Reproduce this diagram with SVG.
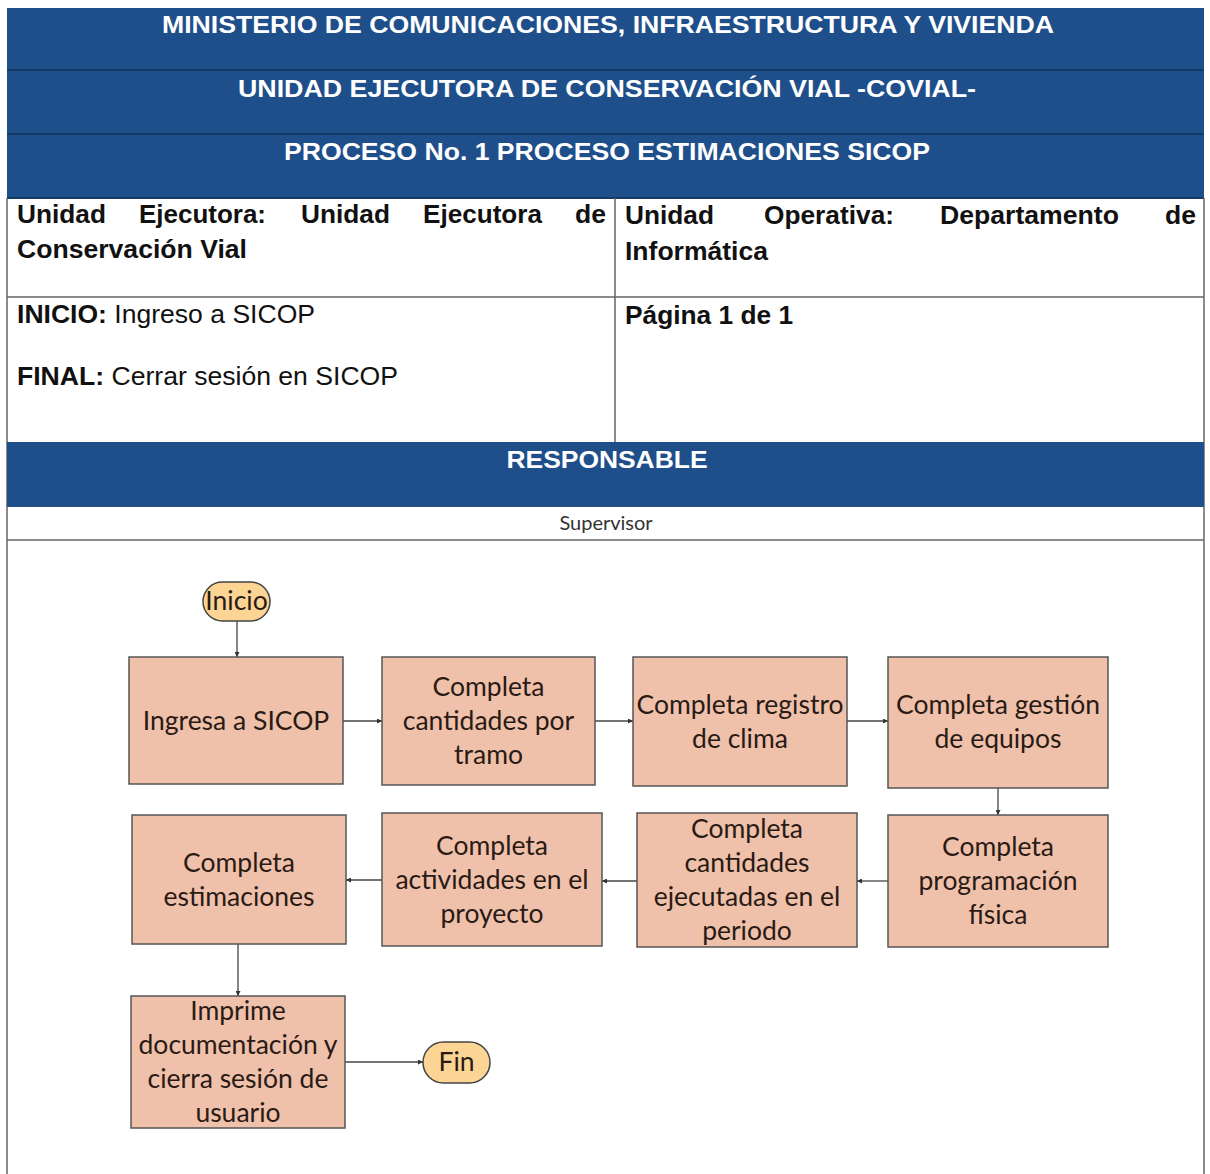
<svg xmlns="http://www.w3.org/2000/svg" width="1210" height="1174" viewBox="0 0 1210 1174">
<style>
.band{fill:#1f4f8b}
.sep{stroke:#163a66;stroke-width:2}
.grid{stroke:#666;stroke-width:1.5;fill:none}
.ht{font-family:"Liberation Sans",Arial,sans-serif;font-weight:bold;font-size:24px;fill:#fff;text-anchor:middle}
.ct{font-family:"Liberation Sans",Arial,sans-serif;font-size:26px;fill:#111}
.b{font-weight:bold}
.sup{font-family:Lato,"Open Sans",sans-serif;font-size:20px;fill:#333;text-anchor:middle}
.box{fill:#efc1ab;stroke:#555;stroke-width:1.5}
.term{fill:#fcd595;stroke:#444;stroke-width:1.5}
.nt{font-family:Lato,"Open Sans",sans-serif;font-size:26.5px;fill:#2a1a14;text-anchor:middle}
.con{stroke:#444;stroke-width:1.3;fill:none;marker-end:url(#ah)}
</style>
<defs>
<marker id="ah" viewBox="0 0 6 6" refX="6" refY="3" markerWidth="5" markerHeight="5" orient="auto" markerUnits="userSpaceOnUse">
<path d="M0,0 L6,3 L0,6 z" fill="#333"/>
</marker>
</defs>
<rect width="1210" height="1174" fill="#fff"/>
<g id="header">
<rect class="band" x="7" y="8" width="1197" height="190"/>
<line class="sep" x1="7" y1="70" x2="1204" y2="70"/>
<line class="sep" x1="7" y1="134" x2="1204" y2="134"/>
<line class="sep" x1="7" y1="198" x2="1204" y2="198"/>
<text class="ht" x="608" y="33" textLength="892" lengthAdjust="spacingAndGlyphs">MINISTERIO DE COMUNICACIONES, INFRAESTRUCTURA Y VIVIENDA</text>
<text class="ht" x="607" y="97" textLength="738" lengthAdjust="spacingAndGlyphs">UNIDAD EJECUTORA DE CONSERVACIÓN VIAL -COVIAL-</text>
<text class="ht" x="607" y="160" textLength="646" lengthAdjust="spacingAndGlyphs">PROCESO No. 1 PROCESO ESTIMACIONES SICOP</text>
</g>
<g id="info-table">
<line class="grid" x1="7" y1="198" x2="7" y2="1174"/>
<line class="grid" x1="1204" y1="198" x2="1204" y2="1174"/>
<line class="grid" x1="615" y1="198" x2="615" y2="442"/>
<line class="grid" x1="7" y1="297" x2="1204" y2="297"/>
<text class="ct b" x="17" y="223" textLength="89" lengthAdjust="spacingAndGlyphs">Unidad</text>
<text class="ct b" x="139" y="223" textLength="127" lengthAdjust="spacingAndGlyphs">Ejecutora:</text>
<text class="ct b" x="301" y="223" textLength="89" lengthAdjust="spacingAndGlyphs">Unidad</text>
<text class="ct b" x="423" y="223" textLength="119" lengthAdjust="spacingAndGlyphs">Ejecutora</text>
<text class="ct b" x="575" y="223" textLength="31" lengthAdjust="spacingAndGlyphs">de</text>
<text class="ct b" x="17" y="258" textLength="230" lengthAdjust="spacingAndGlyphs">Conservación Vial</text>
<text class="ct b" x="625" y="224" textLength="89" lengthAdjust="spacingAndGlyphs">Unidad</text>
<text class="ct b" x="764" y="224" textLength="130" lengthAdjust="spacingAndGlyphs">Operativa:</text>
<text class="ct b" x="940" y="224" textLength="179" lengthAdjust="spacingAndGlyphs">Departamento</text>
<text class="ct b" x="1165" y="224" textLength="31" lengthAdjust="spacingAndGlyphs">de</text>
<text class="ct b" x="625" y="260" textLength="143" lengthAdjust="spacingAndGlyphs">Informática</text>
<text class="ct" x="17" y="323" textLength="298" lengthAdjust="spacingAndGlyphs"><tspan class="b">INICIO:</tspan> Ingreso a SICOP</text>
<text class="ct" x="17" y="385" textLength="381" lengthAdjust="spacingAndGlyphs"><tspan class="b">FINAL:</tspan> Cerrar sesión en SICOP</text>
<text class="ct b" x="625" y="324" textLength="168" lengthAdjust="spacingAndGlyphs">Página 1 de 1</text>
</g>
<g id="responsable">
<rect class="band" x="7" y="442" width="1197" height="65"/>
<text class="ht" x="607" y="468" textLength="201" lengthAdjust="spacingAndGlyphs">RESPONSABLE</text>
<line class="grid" x1="7" y1="540" x2="1204" y2="540"/>
<text class="sup" x="606" y="530">Supervisor</text>
</g>
<g id="connectors">
<line class="con" x1="237" y1="621" x2="237" y2="657"/>
<line class="con" x1="343" y1="721" x2="382" y2="721"/>
<line class="con" x1="595" y1="721" x2="633" y2="721"/>
<line class="con" x1="847" y1="721" x2="888" y2="721"/>
<line class="con" x1="998" y1="788" x2="998" y2="815"/>
<line class="con" x1="888" y1="881" x2="857" y2="881"/>
<line class="con" x1="637" y1="881" x2="602" y2="881"/>
<line class="con" x1="382" y1="880" x2="346" y2="880"/>
<line class="con" x1="238" y1="944" x2="238" y2="996"/>
<line class="con" x1="345" y1="1062" x2="423" y2="1062"/>
</g>
<g id="n-inicio">
<rect class="term" x="203" y="582" width="67" height="39" rx="19.5"/>
<text class="nt" x="236.5" y="610">Inicio</text>
</g>
<g id="n1">
<rect class="box" x="129" y="657" width="214" height="127"/>
<text class="nt" x="236" y="730">Ingresa a SICOP</text>
</g>
<g id="n2">
<rect class="box" x="382" y="657" width="213" height="128"/>
<text class="nt" x="488.5" y="696">Completa</text>
<text class="nt" x="488.5" y="730">cantidades por</text>
<text class="nt" x="488.5" y="764">tramo</text>
</g>
<g id="n3">
<rect class="box" x="633" y="657" width="214" height="129"/>
<text class="nt" x="740" y="714">Completa registro</text>
<text class="nt" x="740" y="748">de clima</text>
</g>
<g id="n4">
<rect class="box" x="888" y="657" width="220" height="131"/>
<text class="nt" x="998" y="714">Completa gestión</text>
<text class="nt" x="998" y="748">de equipos</text>
</g>
<g id="n5">
<rect class="box" x="888" y="815" width="220" height="132"/>
<text class="nt" x="998" y="856">Completa</text>
<text class="nt" x="998" y="890">programación</text>
<text class="nt" x="998" y="924">física</text>
</g>
<g id="n6">
<rect class="box" x="637" y="813" width="220" height="134"/>
<text class="nt" x="747" y="838">Completa</text>
<text class="nt" x="747" y="872">cantidades</text>
<text class="nt" x="747" y="906">ejecutadas en el</text>
<text class="nt" x="747" y="940">periodo</text>
</g>
<g id="n7">
<rect class="box" x="382" y="813" width="220" height="133"/>
<text class="nt" x="492" y="855">Completa</text>
<text class="nt" x="492" y="889">actividades en el</text>
<text class="nt" x="492" y="923">proyecto</text>
</g>
<g id="n8">
<rect class="box" x="132" y="815" width="214" height="129"/>
<text class="nt" x="239" y="872">Completa</text>
<text class="nt" x="239" y="906">estimaciones</text>
</g>
<g id="n9">
<rect class="box" x="131" y="996" width="214" height="132"/>
<text class="nt" x="238" y="1020">Imprime</text>
<text class="nt" x="238" y="1054">documentación y</text>
<text class="nt" x="238" y="1088">cierra sesión de</text>
<text class="nt" x="238" y="1122">usuario</text>
</g>
<g id="n-fin">
<rect class="term" x="423" y="1042" width="67" height="41" rx="20.5"/>
<text class="nt" x="456.5" y="1071">Fin</text>
</g>
</svg>
